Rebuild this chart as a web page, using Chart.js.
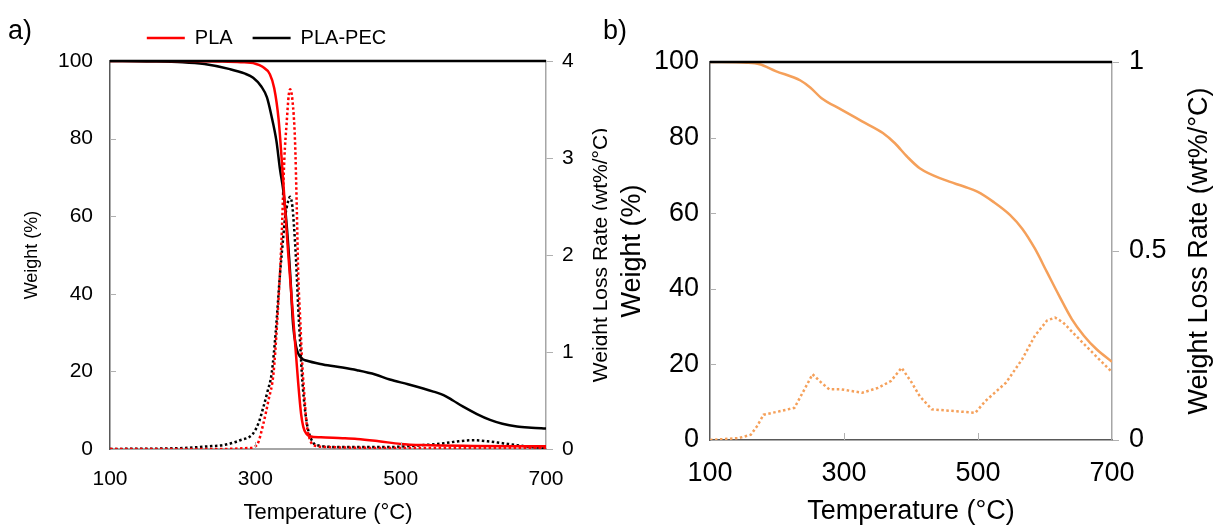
<!DOCTYPE html>
<html>
<head>
<meta charset="utf-8">
<script src="https://cdn.jsdelivr.net/npm/chart.js@4.4.1/dist/chart.umd.min.js"></script>
<style>
  html, body { margin: 0; padding: 0; background: #fff; }
  body { width: 1215px; height: 527px; position: relative; overflow: hidden; font-family: "Liberation Sans", Arial, sans-serif; }
  .panel { position: absolute; top: 0; height: 527px; }
  #pa { left: 0; width: 607px; }
  #pb { left: 607px; width: 608px; }
  .lab { position: absolute; font-size: 27px; color: #000; line-height: 1; }
</style>
</head>
<body>
<div class="panel" id="pa"><canvas id="ca"></canvas></div>
<div class="panel" id="pb"><canvas id="cb"></canvas></div>
<div class="lab" style="left:8px; top:17px;">a)</div>
<div class="lab" style="left:603px; top:17px;">b)</div>
<script>
// ---------- data ----------
// Panel a: PLA weight (%)
const plaT = [100,200,250,280,300,310,320,326,332,338,345,352,359,363,366,370,375,390,420,440,470,500,530,600,700];
const plaW = [100,100,99.9,99.7,99.3,98.5,96.6,93,85,70,51,34,17,9,5.7,4,3.3,3.0,2.8,2.6,2.0,1.3,1.0,0.8,0.7];
// Panel a: PLA-PEC weight (%)
const pecT = [100,150,200,230,265,285,297,308,316,322,329,334,338.5,343,348,352,356,359,364,370,393,420,440,465,485,510,531,545,559,572,586,605,623,640,660,680,700];
const pecW = [100,99.9,99.7,99.2,97.9,96.8,95.7,93.5,90.6,86,79.4,72,66.6,58,45,32,26.5,24.6,23.3,22.8,21.8,21.0,20.3,19.2,17.9,16.7,15.6,14.8,13.9,12.5,10.9,9.0,7.5,6.5,5.8,5.5,5.3];
// Panel a: PLA weight loss rate (wt%/°C)
const plaRT = [100,250,290,302,311,318,325,330,336,340,343,346,348,351,354.6,357,359,362,364,367,370.6,375,380,400,500,600,700];
const plaR  = [0,0,0.01,0.04,0.26,0.5,0.78,1.3,2.15,3.0,3.35,3.65,3.71,3.6,3.18,2.5,1.81,1.3,0.95,0.6,0.26,0.1,0.04,0.02,0.01,0.01,0.01];
// Panel a: PLA-PEC weight loss rate (wt%/°C)
const pecRT = [100,200,240,256,279,297,305,311,317,322.5,328,334,338,341,345,348,351,353,356,359,362,364,367,371,377,384,420,480,531,560,580,600,620,640,660,680,700];
const pecR  = [0,0.01,0.03,0.04,0.09,0.16,0.28,0.43,0.6,0.78,1.2,1.81,2.15,2.39,2.55,2.6,2.5,2.32,1.95,1.46,1.05,0.78,0.5,0.26,0.1,0.04,0.02,0.02,0.04,0.06,0.08,0.09,0.08,0.06,0.04,0.02,0.01];
// Panel b: weight (%)
const bT = [100,155,174,198,235,250,266,296,327,358,376,394,413,450,480,499,523,548,566,585,603,621,640,658,677,700];
const bW = [100,99.8,99.4,97.6,95.1,93.2,90.5,87.4,84.3,81.2,78.5,75,71.9,68.8,67,65.7,63,59.5,55.9,50.6,44.4,38.2,32,27.6,24,20.7];
// Panel b: weight loss rate (wt%/°C)
const bRT = [100,143,161,170,180,204,226,241,253,266,278,296,327,351,370,386,401,413,431,468,496,511,542,566,585,603,615,627,646,671,698];
const bR  = [0,0.005,0.014,0.036,0.067,0.076,0.085,0.134,0.174,0.152,0.134,0.134,0.125,0.138,0.156,0.191,0.152,0.116,0.081,0.076,0.072,0.103,0.152,0.214,0.276,0.316,0.324,0.311,0.276,0.231,0.183];
// Axis ticks / labels
const xTicks = [100, 300, 500, 700];
const seriesNames = ['PLA', 'PLA-PEC'];
const xTitle = 'Temperature (°C)';
const yTitle = 'Weight (%)';
const y2Title = 'Weight Loss Rate (wt%/°C)';

const pts = (xs, ys) => xs.map((x, i) => ({ x, y: ys[i] }));
const FONT = '"Liberation Sans", Arial, sans-serif';

// plugin: top black border, inward ticks, right-side rotated title
const decor = {
  id: 'decor',
  afterDraw(chart, args, o) {
    const { ctx, chartArea: a, scales } = chart;
    ctx.save();
    ctx.strokeStyle = '#b0b0b0';
    ctx.lineWidth = 1;
    o.yInner.forEach(v => {
      const y = Math.round(scales.y.getPixelForValue(v)) + 0.5;
      ctx.beginPath(); ctx.moveTo(a.left, y); ctx.lineTo(a.left + 6, y); ctx.stroke();
    });
    o.xInner.forEach(v => {
      const x = Math.round(scales.x.getPixelForValue(v)) + 0.5;
      ctx.beginPath(); ctx.moveTo(x, a.bottom); ctx.lineTo(x, a.bottom - 7); ctx.stroke();
    });
    ctx.strokeStyle = '#000';
    ctx.lineWidth = 2.5;
    ctx.beginPath(); ctx.moveTo(a.left, a.top); ctx.lineTo(a.right, a.top); ctx.stroke();
    ctx.fillStyle = '#000';
    ctx.font = o.titleSize + 'px ' + FONT;
    ctx.textAlign = 'center';
    ctx.textBaseline = 'middle';
    ctx.translate(o.titleX, (a.top + a.bottom) / 2 + (o.titleDy || 0));
    ctx.rotate(-Math.PI / 2);
    ctx.fillText(o.title, 0, 0);
    ctx.restore();
  }
};

// plugin: shift legend horizontally
const legendShift = {
  id: 'legendShift',
  afterLayout(chart, args, o) {
    if (chart.legend && o.dx) { chart.legend.left += o.dx; chart.legend.right += o.dx; }
  }
};

const lineDs = (label, data, color, axis, dotted, width, smooth) => ({
  label, data, yAxisID: axis,
  borderColor: color, backgroundColor: color,
  borderWidth: width, borderDash: dotted ? [2.5, 2.5] : [],
  borderCapStyle: 'butt',
  pointRadius: 0, fill: false,
  cubicInterpolationMode: smooth ? 'monotone' : 'default', tension: 0
});

const numLabel = v => String(+v);

// ---------- Panel a ----------
new Chart(document.getElementById('ca'), {
  type: 'line',
  data: {
    datasets: [
      lineDs(seriesNames[0], pts(plaT, plaW), '#ff0000', 'y', false, 2.5, true),
      lineDs(seriesNames[1], pts(pecT, pecW), '#000000', 'y', false, 2.5, true),
      lineDs(seriesNames[0] + ' rate', pts(plaRT, plaR), '#ff0000', 'y2', true, 2.5, true),
      lineDs(seriesNames[1] + ' rate', pts(pecRT, pecR), '#000000', 'y2', true, 2.5, true)
    ]
  },
  options: {
    responsive: true, maintainAspectRatio: false, animation: false,
    layout: { padding: { top: 8, left: 0, right: 0, bottom: 0 } },
    plugins: {
      legend: {
        display: true, position: 'top',
        labels: {
          filter: it => it.datasetIndex < 2,
          usePointStyle: true, pointStyle: 'line', pointStyleWidth: 38,
          boxHeight: 20, color: '#000', padding: 20,
          font: { family: FONT, size: 20 }
        }
      },
      tooltip: { enabled: false },
      legendShift: { dx: -37 },
      decor: { yInner: [20, 40, 60, 80], xInner: [300, 500], title: y2Title, titleSize: 21, titleX: 601 }
    },
    scales: {
      x: {
        type: 'linear', min: 100, max: 700,
        afterBuildTicks: s => { s.ticks = xTicks.map(v => ({ value: v })); },
        ticks: { color: '#000', font: { family: FONT, size: 21 }, padding: 18, maxRotation: 0, callback: numLabel },
        grid: { display: true, drawOnChartArea: false, drawTicks: false },
        border: { display: true, color: '#a6a6a6', width: 2 },
        title: { display: true, text: xTitle, color: '#000', font: { family: FONT, size: 22, lineHeight: 1 }, padding: { top: 0, bottom: 3 } },
        afterFit: s => { s.height = 78; }
      },
      xTop: {
        type: 'linear', axis: 'x', position: 'top', min: 100, max: 700,
        ticks: { display: false }, grid: { display: false }, border: { display: false },
        afterFit: s => { s.height = 3; }
      },
      y: {
        position: 'left', min: 0, max: 100,
        ticks: { stepSize: 20, color: '#000', font: { family: FONT, size: 21 }, padding: 17, callback: numLabel },
        grid: { display: true, drawOnChartArea: false, drawTicks: false },
        border: { display: true, color: '#595959', width: 1.5 },
        title: { display: true, text: yTitle, color: '#000', font: { family: FONT, size: 18, lineHeight: 1 }, padding: { top: 23, bottom: 0 } },
        afterFit: s => { s.width = 110; }
      },
      y2: {
        position: 'right', min: 0, max: 4,
        ticks: { stepSize: 1, color: '#000', font: { family: FONT, size: 21 }, padding: 9, callback: numLabel },
        grid: { display: true, drawOnChartArea: false, drawTicks: true, tickLength: 7, color: '#b0b0b0' },
        border: { display: true, color: '#a6a6a6', width: 1.5 },
        afterFit: s => { s.width = 61; }
      }
    }
  },
  plugins: [decor, legendShift]
});

// ---------- Panel b ----------
new Chart(document.getElementById('cb'), {
  type: 'line',
  data: {
    datasets: [
      lineDs('Weight', pts(bT, bW), '#f5a05a', 'y', false, 2.5, true),
      lineDs('Weight loss rate', pts(bRT, bR), '#f5a05a', 'y2', true, 2.5, false)
    ]
  },
  options: {
    responsive: true, maintainAspectRatio: false, animation: false,
    layout: { padding: { top: 62, left: 0, right: 0, bottom: 0 } },
    plugins: {
      legend: { display: false },
      tooltip: { enabled: false },
      decor: { yInner: [20, 40, 60, 80], xInner: [300, 500], title: y2Title, titleSize: 27, titleX: 593 }
    },
    scales: {
      x: {
        type: 'linear', min: 100, max: 700,
        afterBuildTicks: s => { s.ticks = xTicks.map(v => ({ value: v })); },
        ticks: { color: '#000', font: { family: FONT, size: 27 }, padding: 17, maxRotation: 0, callback: numLabel },
        grid: { display: true, drawOnChartArea: false, drawTicks: false },
        border: { display: true, color: '#595959', width: 1.5 },
        title: { display: true, text: xTitle, color: '#000', font: { family: FONT, size: 27, lineHeight: 1 }, padding: { top: 0, bottom: 2 } },
        afterFit: s => { s.height = 87; }
      },
      y: {
        position: 'left', min: 0, max: 100,
        ticks: { stepSize: 20, color: '#000', font: { family: FONT, size: 27 }, padding: 11, callback: numLabel },
        grid: { display: true, drawOnChartArea: false, drawTicks: false },
        border: { display: true, color: '#595959', width: 1.5 },
        title: { display: true, text: yTitle, color: '#000', font: { family: FONT, size: 27, lineHeight: 1 }, padding: { top: 12, bottom: 0 } },
        afterFit: s => { s.width = 103; }
      },
      y2: {
        position: 'right', min: 0, max: 1,
        ticks: { stepSize: 0.5, color: '#000', font: { family: FONT, size: 27 }, padding: 10, callback: numLabel },
        grid: { display: true, drawOnChartArea: false, drawTicks: true, tickLength: 7, color: '#b0b0b0' },
        border: { display: true, color: '#a6a6a6', width: 1.5 },
        afterFit: s => { s.width = 103; }
      }
    }
  },
  plugins: [decor]
});
</script>
</body>
</html>
